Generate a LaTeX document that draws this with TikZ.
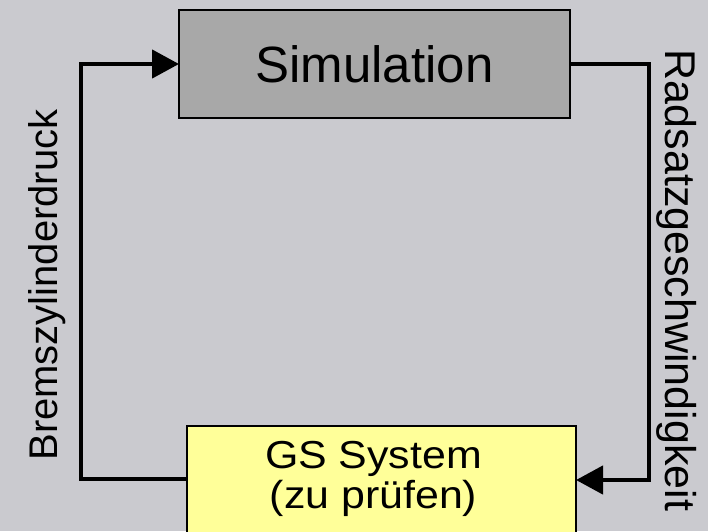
\documentclass[tikz,border=0pt]{standalone}
\usepackage{fontspec}
\setmainfont{Liberation Sans}
\newfontfamily\gsfont[FakeStretch=1.1]{Liberation Sans}
\usetikzlibrary{arrows.meta}
\definecolor{bg}{RGB}{202,202,207}
\definecolor{simfill}{RGB}{168,168,168}
\definecolor{gsfill}{RGB}{255,255,153}
\tikzset{
  boxstyle/.style={draw=black, line width=2pt, inner sep=0pt, outer sep=0pt},
  conn/.style={line width=4.5pt, line join=miter, draw=black},
  tip/.style={-{Triangle[length=27pt,width=28pt]}},
  lbl/.style={inner sep=0pt, font=\fontsize{42}{48}\selectfont}
}
\begin{document}
\begin{tikzpicture}[x=1pt,y=-1pt]
\useasboundingbox[fill=bg] (0,0) rectangle (708,531);
\clip (0,0) rectangle (708,531);
\node[boxstyle, fill=simfill, minimum width=391pt, minimum height=108pt,
      font=\fontsize{51}{60}\selectfont] (sim) at (374.5,64) {Simulation};
\node[boxstyle, fill=gsfill, minimum width=389pt, minimum height=160pt, anchor=north] (gs) at (381.5,426) {};
\node[align=center, inner sep=0pt, anchor=north, font=\gsfont\fontsize{39}{40}\selectfont] (gstext) at (373.5,441.5) {GS System\\(zu prüfen)};
\node[lbl, rotate=90, anchor=base, font=\fontsize{40}{48}\selectfont] (lblL) at (57,285) {Bremszylinderdruck};
\node[lbl, rotate=-90, anchor=base, font=\fontsize{43}{48}\selectfont] (lblR) at (665,280.5) {Radsatzgeschwindigkeit};
\coordinate (l1) at (81,479);
\coordinate (r1) at (649,480);
\draw[conn, tip] (gs.west |- l1) -- (l1) |- (sim.west);
\draw[conn, tip] (sim.east) -| (r1) -- (gs.east |- r1);
\end{tikzpicture}
\end{document}
